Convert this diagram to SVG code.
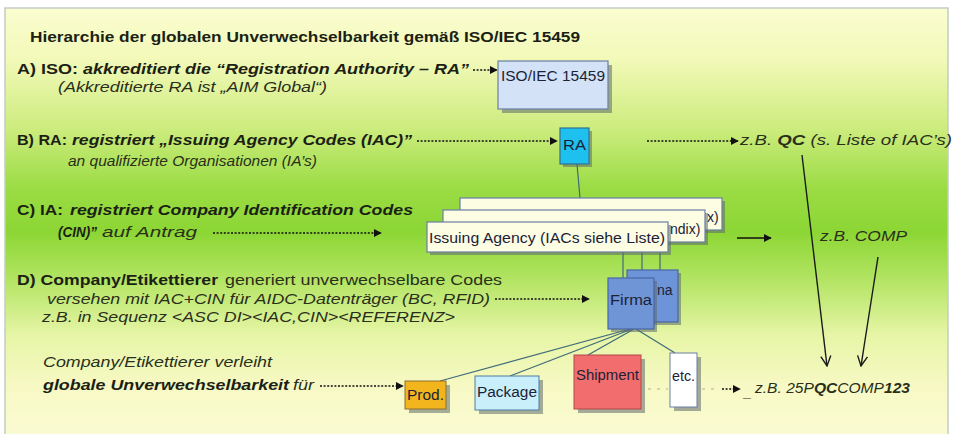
<svg xmlns="http://www.w3.org/2000/svg" width="953" height="434" viewBox="0 0 953 434">
  <defs>
    <linearGradient id="bg" x1="0" y1="0" x2="0" y2="1">
      <stop offset="0" stop-color="#fbfdd0"/>
      <stop offset="0.12" stop-color="#f2f9b8"/>
      <stop offset="0.28" stop-color="#cdec7e"/>
      <stop offset="0.42" stop-color="#9bdc44"/>
      <stop offset="0.52" stop-color="#8cd634"/>
      <stop offset="0.63" stop-color="#b2e462"/>
      <stop offset="0.76" stop-color="#e6f5a6"/>
      <stop offset="0.88" stop-color="#f7f9c4"/>
      <stop offset="1" stop-color="#fbfbd4"/>
    </linearGradient>
    <marker id="tri" viewBox="0 0 10 10" refX="9" refY="5" markerWidth="8" markerHeight="8" markerUnits="userSpaceOnUse" orient="auto">
      <path d="M0,0 L10,5 L0,10 Z" fill="#111"/>
    </marker>
    <marker id="vee" viewBox="0 0 12 12" refX="11" refY="6" markerWidth="12" markerHeight="12" markerUnits="userSpaceOnUse" orient="auto">
      <path d="M1,1 L11,6 L1,11" fill="none" stroke="#1a1a1a" stroke-width="1.4"/>
    </marker>
    <style>
      text { font-family: "Liberation Sans", Arial, sans-serif; fill: #1c1f14; }
      .title { font-size: 15px; font-weight: bold; }
      .h { font-size: 15px; font-weight: bold; }
      .hi { font-size: 15px; font-weight: bold; font-style: italic; }
      .it { font-size: 14px; font-style: italic; fill: #2a2f1c; }
      .bi { font-size: 14px; font-style: italic; font-weight: bold; }
      .rg { font-size: 15px; fill: #2a2f1c; }
      .box { font-size: 14px; fill: #1b2238; }
      .shadow { fill: #5e6a6a; opacity: 0.55; }
      .dash { stroke: #111; stroke-width: 1.3; stroke-dasharray: 2 1.6; fill: none; }
      .faint { stroke: #555; stroke-width: 1; stroke-dasharray: 3 6; fill: none; opacity: 0.45; }
      .solid { stroke: #111; stroke-width: 1.3; fill: none; }
      .link { stroke: #3e6a7a; stroke-width: 1.2; fill: none; }
      .down { stroke: #1a1a1a; stroke-width: 1.4; fill: none; }
    </style>
  </defs>

  <rect x="0" y="0" width="953" height="434" fill="#ffffff"/>
  <!-- panel -->
  <rect x="5" y="8" width="943" height="430" fill="url(#bg)" stroke="#c4cbc4" stroke-width="1.5"/>

  <!-- heading and rows of text -->
  <g id="labels">
    <text class="title" x="30" y="42" textLength="550" lengthAdjust="spacingAndGlyphs">Hierarchie der globalen Unverwechselbarkeit gemäß ISO/IEC 15459</text>

    <text class="h" x="17" y="74" textLength="61" lengthAdjust="spacingAndGlyphs">A) ISO:</text>
    <text class="hi" x="83" y="74" textLength="386" lengthAdjust="spacingAndGlyphs">akkreditiert die “Registration Authority – RA”</text>
    <text class="it" x="58" y="92" textLength="269" lengthAdjust="spacingAndGlyphs">(Akkreditierte RA ist „AIM Global“)</text>

    <text class="h" x="17" y="145" textLength="50" lengthAdjust="spacingAndGlyphs">B) RA:</text>
    <text class="hi" x="72" y="145" textLength="340" lengthAdjust="spacingAndGlyphs">registriert „Issuing Agency Codes (IAC)”</text>
    <text class="it" x="68" y="166" textLength="249" lengthAdjust="spacingAndGlyphs">an qualifizierte Organisationen (IA’s)</text>
    <text class="it" x="740" y="145" font-size="15" textLength="212" lengthAdjust="spacingAndGlyphs"><tspan>z.B. </tspan><tspan font-weight="bold">QC</tspan><tspan> (s. Liste of IAC’s)</tspan></text>

    <text class="h" x="17" y="215" textLength="46" lengthAdjust="spacingAndGlyphs">C) IA:</text>
    <text class="hi" x="70" y="215" textLength="343" lengthAdjust="spacingAndGlyphs">registriert Company Identification Codes</text>
    <text class="bi" x="58" y="237" textLength="39" lengthAdjust="spacingAndGlyphs">(CIN)”</text>
    <text class="it" x="102" y="237" textLength="95" lengthAdjust="spacingAndGlyphs">auf Antrag</text>
    <text class="it" x="820" y="241" font-size="15" textLength="87" lengthAdjust="spacingAndGlyphs">z.B. COMP</text>

    <text class="h" x="17" y="285" textLength="201" lengthAdjust="spacingAndGlyphs">D) Company/Etikettierer</text>
    <text class="rg" x="225" y="285" textLength="277" lengthAdjust="spacingAndGlyphs">generiert unverwechselbare Codes</text>
    <text class="it" x="47" y="304" textLength="443" lengthAdjust="spacingAndGlyphs">versehen mit IAC+CIN für AIDC-Datenträger (BC, RFID)</text>
    <text class="it" x="42" y="322" textLength="413" lengthAdjust="spacingAndGlyphs">z.B. in Sequenz &lt;ASC DI&gt;&lt;IAC,CIN&gt;&lt;REFERENZ&gt;</text>

    <text class="it" x="43" y="367" textLength="229" lengthAdjust="spacingAndGlyphs">Company/Etikettierer verleiht</text>
    <text class="bi" x="43" y="390" textLength="246" lengthAdjust="spacingAndGlyphs">globale Unverwechselbarkeit</text>
    <text class="it" x="293" y="390" textLength="21" lengthAdjust="spacingAndGlyphs">für</text>

    <text class="it" x="744" y="397">_</text>
    <text class="it" x="755" y="393" textLength="155" lengthAdjust="spacingAndGlyphs"><tspan>z.B. 25P</tspan><tspan font-weight="bold">QC</tspan><tspan>COMP</tspan><tspan font-weight="bold">123</tspan></text>
  </g>

  <!-- connectors -->
  <g id="connectors">
    <line class="dash" x1="473" y1="70" x2="497" y2="70" marker-end="url(#tri)"/>
    <line class="dash" x1="417" y1="141" x2="557" y2="141" marker-end="url(#tri)"/>
    <line class="dash" x1="647" y1="141" x2="738" y2="141" marker-end="url(#tri)"/>
    <line class="dash" x1="213" y1="233" x2="381" y2="233" marker-end="url(#tri)"/>
    <line class="solid" x1="737" y1="238" x2="771" y2="238" marker-end="url(#tri)"/>
    <line class="dash" x1="495" y1="299" x2="589" y2="299" marker-end="url(#tri)"/>
    <line class="dash" x1="320" y1="386" x2="403" y2="386" marker-end="url(#tri)"/>
    <line class="faint" x1="648" y1="389" x2="668" y2="389"/>
    <line class="faint" x1="702" y1="389" x2="716" y2="389"/>
    <line class="dash" x1="722" y1="389" x2="740" y2="389" marker-end="url(#tri)"/>

    <line class="link" x1="577" y1="164" x2="580" y2="198"/>
    <line class="link" x1="623" y1="252" x2="623" y2="278"/>
    <line class="link" x1="642" y1="252" x2="642" y2="270"/>
    <line class="link" x1="660" y1="252" x2="660" y2="270"/>

    <line class="link" x1="630" y1="329" x2="440" y2="381"/>
    <line class="link" x1="632" y1="329" x2="510" y2="376"/>
    <line class="link" x1="634" y1="329" x2="588" y2="355"/>
    <line class="link" x1="636" y1="329" x2="675" y2="353"/>

    <line class="down" x1="802" y1="155" x2="827" y2="366" marker-end="url(#vee)"/>
    <line class="down" x1="878" y1="257" x2="861" y2="366" marker-end="url(#vee)"/>
  </g>

  <!-- ISO/IEC 15459 -->
  <g id="iso">
    <rect class="shadow" x="502" y="65" width="110" height="48"/>
    <rect x="498" y="61" width="110" height="48" fill="#d3e2f7" stroke="#6b7fa6" stroke-width="1.2"/>
    <text class="box" x="501" y="81" textLength="104" lengthAdjust="spacingAndGlyphs">ISO/IEC 15459</text>
  </g>

  <!-- Registration Authority -->
  <g id="ra">
    <rect class="shadow" x="563" y="131" width="29" height="36"/>
    <rect x="560" y="128" width="29" height="36" fill="#1ec0f0" stroke="#33708f" stroke-width="1.2"/>
    <text class="box" x="563" y="150" textLength="23" lengthAdjust="spacingAndGlyphs">RA</text>
  </g>

  <!-- Issuing Agencies, stacked -->
  <g id="ia">
    <rect class="shadow" x="463" y="201" width="262" height="32"/>
    <rect x="460" y="198" width="262" height="32" fill="#fdfde4" stroke="#6b7fa6" stroke-width="1.2"/>
    <text class="box" x="707" y="222">x)</text>
    <rect class="shadow" x="446" y="213" width="262" height="32"/>
    <rect x="443" y="210" width="262" height="32" fill="#fdfde4" stroke="#6b7fa6" stroke-width="1.2"/>
    <text class="box" x="670" y="234">ndix)</text>
    <rect class="shadow" x="430" y="225" width="241" height="30"/>
    <rect x="427" y="222" width="241" height="30" fill="#fdfde4" stroke="#6b7fa6" stroke-width="1.2"/>
    <text class="box" x="429" y="243" textLength="236" lengthAdjust="spacingAndGlyphs">Issuing Agency (IACs siehe Liste)</text>
  </g>

  <!-- Companies -->
  <g id="firma">
    <rect class="shadow" x="630" y="273" width="51" height="52"/>
    <rect x="627" y="270" width="51" height="52" fill="#6d94d8" stroke="#4867a6" stroke-width="1.2"/>
    <text class="box" x="657" y="295">na</text>
    <rect class="shadow" x="611" y="281" width="46" height="51"/>
    <rect x="608" y="278" width="46" height="51" fill="#6f95d6" stroke="#4867a6" stroke-width="1.2"/>
    <text class="box" x="610" y="305" textLength="42" lengthAdjust="spacingAndGlyphs">Firma</text>
  </g>

  <g id="prod">
    <rect class="shadow" x="409" y="385" width="41" height="28"/>
    <rect x="405" y="381" width="41" height="28" fill="#f3b51e" stroke="#8a7030" stroke-width="1"/>
    <text class="box" x="407" y="400" textLength="37" lengthAdjust="spacingAndGlyphs">Prod.</text>
  </g>

  <g id="package">
    <rect class="shadow" x="479" y="380" width="64" height="34"/>
    <rect x="475" y="376" width="64" height="34" fill="#c9effb" stroke="#4b7fa2" stroke-width="1"/>
    <text class="box" x="477" y="397" textLength="60" lengthAdjust="spacingAndGlyphs">Package</text>
  </g>

  <g id="shipment">
    <rect class="shadow" x="578" y="359" width="67" height="54"/>
    <rect x="574" y="355" width="67" height="54" fill="#f26d6d" stroke="#b04a4a" stroke-width="1"/>
    <text class="box" x="576" y="380" fill="#7a1a1a" textLength="63" lengthAdjust="spacingAndGlyphs">Shipment</text>
  </g>

  <g id="etc">
    <rect class="shadow" x="674" y="357" width="27" height="54"/>
    <rect x="670" y="353" width="27" height="54" fill="#ffffff" stroke="#6b7fa6" stroke-width="1"/>
    <text class="box" x="672" y="381" textLength="23" lengthAdjust="spacingAndGlyphs">etc.</text>
  </g>
</svg>
